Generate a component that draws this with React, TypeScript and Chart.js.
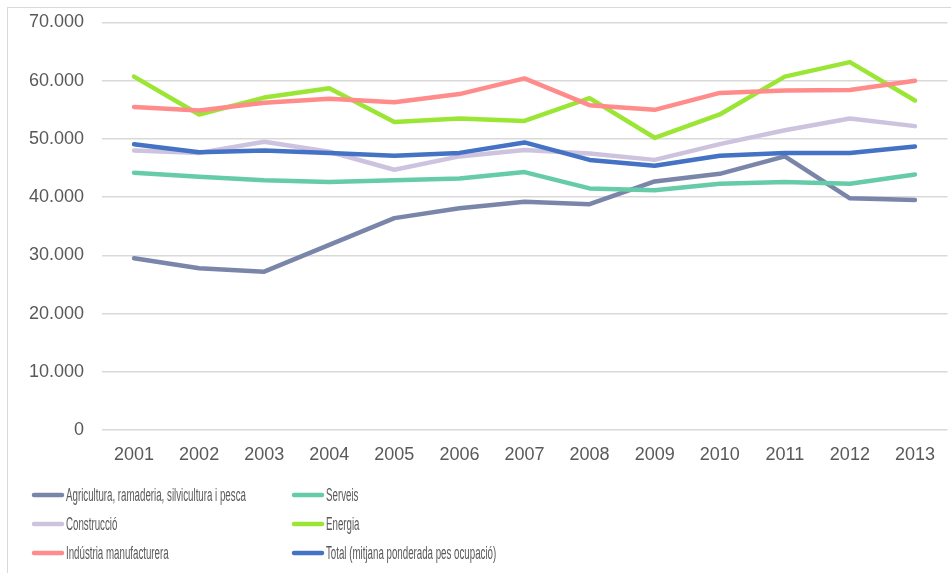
import React, { useEffect, useRef } from "react";
import { Chart, registerables } from "chart.js";

Chart.register(...registerables);

const years = ["2001", "2002", "2003", "2004", "2005", "2006", "2007", "2008", "2009", "2010", "2011", "2012", "2013"];

const agricultura = [29500, 27800, 27200, 31800, 36400, 38100, 39200, 38800, 42700, 44000, 47000, 39800, 39500];
const serveis = [44200, 43500, 42900, 42600, 42900, 43200, 44300, 41500, 41200, 42300, 42600, 42300, 43900];
const construccio = [48000, 47600, 49500, 47800, 44700, 47000, 48100, 47500, 46400, 49100, 51500, 53500, 52200];
const energia = [60700, 54200, 57100, 58700, 52900, 53500, 53100, 57000, 50200, 54200, 60700, 63200, 56600];
const industria = [55500, 54900, 56200, 56900, 56300, 57700, 60400, 55800, 55000, 57900, 58300, 58400, 60000];
const total = [49100, 47700, 48000, 47600, 47100, 47600, 49400, 46400, 45400, 47100, 47600, 47600, 48700];

const seriesNames = [
  "Agricultura, ramaderia, silvicultura i pesca",
  "Serveis",
  "Construcció",
  "Energia",
  "Indústria manufacturera",
  "Total (mitjana ponderada pes ocupació)",
];
const seriesValues = [agricultura, serveis, construccio, energia, industria, total];
const seriesColors = ["#7A85AA", "#66CBA8", "#CDC3DF", "#9BE635", "#FF8B8B", "#4472C4"];

const yMin = 0;
const yMax = 70000;
const yStep = 10000;

function formatThousands(v: number): string {
  return String(v).replace(/\B(?=(\d{3})+(?!\d))/g, ".");
}

const legendPlugin = {
  id: "gridLegend",
  afterDraw(chart: any) {
    const ctx = chart.ctx as CanvasRenderingContext2D;
    const colX = [33, 293];
    const rowY = [495, 524, 553];
    ctx.save();
    seriesNames.forEach((name, i) => {
      const col = i % 2;
      const row = Math.floor(i / 2);
      const x = colX[col];
      const y = rowY[row];
      ctx.strokeStyle = seriesColors[i];
      ctx.lineWidth = 4.5;
      ctx.lineCap = "round";
      ctx.beginPath();
      ctx.moveTo(x + 1, y);
      ctx.lineTo(x + 29, y);
      ctx.stroke();
      ctx.save();
      ctx.translate(x + 33, y + 1);
      ctx.scale(0.54, 1);
      ctx.fillStyle = "#595959";
      ctx.font = "18px 'Liberation Sans', Arial, sans-serif";
      ctx.textBaseline = "middle";
      ctx.textAlign = "left";
      ctx.fillText(name, 0, 0);
      ctx.restore();
    });
    ctx.restore();
  },
};

export default function App() {
  const canvasRef = useRef<HTMLCanvasElement | null>(null);

  useEffect(() => {
    if (!canvasRef.current) return;
    const chart = new Chart(canvasRef.current, {
      type: "line",
      data: {
        labels: years,
        datasets: seriesValues.map((vals, i) => ({
          label: seriesNames[i],
          data: vals,
          borderColor: seriesColors[i],
          backgroundColor: seriesColors[i],
          borderWidth: 4.5,
          borderCapStyle: "round" as const,
          borderJoinStyle: "round" as const,
          pointRadius: 0,
          tension: 0,
          fill: false,
          order: seriesValues.length - i,
        })),
      },
      options: {
        responsive: false,
        animation: false,
        devicePixelRatio: 1,
        layout: { padding: { left: 0, right: 3.5, top: 22.5, bottom: 100 } },
        plugins: {
          legend: { display: false },
          tooltip: { enabled: false },
        },
        scales: {
          x: {
            type: "category",
            offset: true,
            grid: { display: false, drawTicks: false },
            border: { display: false },
            ticks: {
              color: "#595959",
              font: { family: "'Liberation Sans', Arial, sans-serif", size: 18 },
              padding: 14,
              maxRotation: 0,
              autoSkip: false,
            },
            afterFit: (scale: any) => {
              scale.height = 43;
            },
          },
          y: {
            min: yMin,
            max: yMax,
            grid: {
              color: "#D9D9D9",
              lineWidth: 1.5,
              drawTicks: true,
              tickLength: 17.5,
              tickColor: "rgba(0,0,0,0)",
            },
            border: { display: false },
            ticks: {
              stepSize: yStep,
              color: "#595959",
              font: { family: "'Liberation Sans', Arial, sans-serif", size: 18 },
              padding: 0,
              callback: (v: any) => formatThousands(Number(v)),
            },
            afterFit: (scale: any) => {
              scale.width = 101.5;
            },
          },
        },
      },
      plugins: [legendPlugin],
    });
    return () => chart.destroy();
  }, []);

  return (
    <div style={{ position: "fixed", left: 0, top: 0, width: 951, height: 573, background: "#fff", overflow: "hidden" }}>
      <div
        style={{
          position: "absolute",
          left: 7,
          top: 7,
          width: 980,
          height: 600,
          border: "1px solid #D9D9D9",
          boxSizing: "border-box",
        }}
      />
      <canvas ref={canvasRef} width={951} height={573} style={{ position: "absolute", left: 0, top: 0 }} />
    </div>
  );
}
